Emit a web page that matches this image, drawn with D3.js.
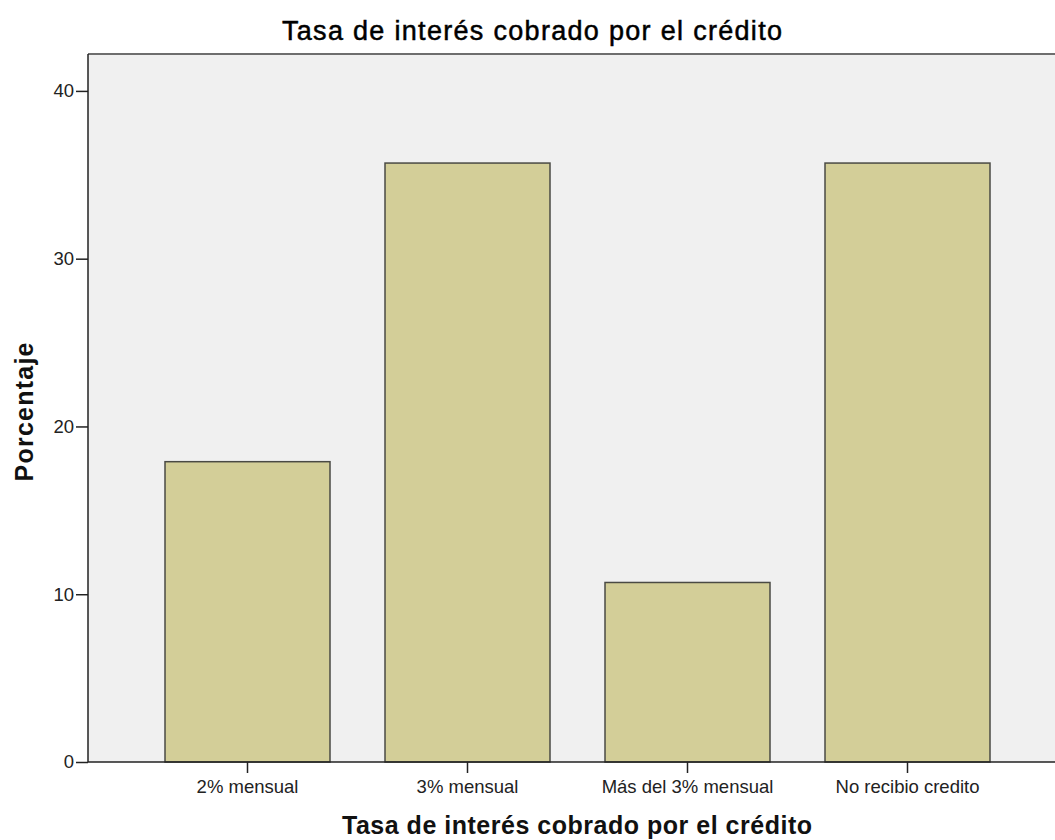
<!DOCTYPE html>
<html>
<head>
<meta charset="utf-8">
<title>Tasa de interés cobrado por el crédito</title>
<script src="https://d3js.org/d3.v7.min.js"></script>
<style>
  body { margin: 0; background: #fff; }
  text { font-family: "Liberation Sans", Arial, sans-serif; }
</style>
</head>
<body>
<script>
// data
var categories = ["2% mensual", "3% mensual", "Más del 3% mensual", "No recibio credito"];
var percentages = [17.9, 35.7, 10.7, 35.7];
var yTicks = [0, 10, 20, 30, 40];

var w = 1055, h = 840;
var plotLeft = 88, plotTop = 54, plotBottom = 762, plotRight = 1067;

var svg = d3.select("body").append("svg")
    .attr("width", w)
    .attr("height", h);

var x = d3.scaleBand()
    .domain(categories)
    .range([plotLeft, plotRight])
    .paddingInner(0.25)
    .paddingOuter(0.35);

var y = d3.scaleLinear()
    .domain([0, 42.2])
    .range([plotBottom, plotTop]);

// plot background
svg.append("rect")
    .attr("x", plotLeft).attr("y", plotTop)
    .attr("width", plotRight - plotLeft).attr("height", plotBottom - plotTop)
    .attr("fill", "#f0f0f0");

svg.append("line")
    .attr("x1", plotLeft).attr("x2", w)
    .attr("y1", plotTop).attr("y2", plotTop)
    .attr("stroke", "#6e6e6e").attr("stroke-width", 2);

// bars
svg.selectAll("rect.bar")
    .data(percentages)
    .enter().append("rect")
    .attr("class", "bar")
    .attr("x", (d, i) => x(categories[i]))
    .attr("y", d => y(d))
    .attr("width", x.bandwidth())
    .attr("height", d => plotBottom - y(d))
    .attr("fill", "#d3ce98")
    .attr("stroke", "#4a4a44")
    .attr("stroke-width", 1.5);

// axes
var yAxis = d3.axisLeft(y).tickValues(yTicks).tickSize(12).tickPadding(2);
var gy = svg.append("g").attr("transform", "translate(" + plotLeft + ",0)").call(yAxis);
gy.select(".domain").remove();
gy.selectAll("line").attr("stroke", "#222").attr("stroke-width", 1.5);
gy.selectAll("text").attr("font-size", "18.5px").attr("fill", "#222")
    .attr("font-family", "'Liberation Sans', Arial, sans-serif");

svg.append("line")
    .attr("x1", plotLeft).attr("x2", plotLeft)
    .attr("y1", plotTop).attr("y2", plotBottom)
    .attr("stroke", "#222").attr("stroke-width", 1.5);

var xAxis = d3.axisBottom(x).tickSize(11).tickPadding(7);
var gx = svg.append("g").attr("transform", "translate(0," + plotBottom + ")").call(xAxis);
gx.select(".domain").remove();
gx.selectAll("line").attr("stroke", "#222").attr("stroke-width", 1.5);
gx.selectAll("text").attr("font-size", "18.5px").attr("fill", "#222")
    .attr("font-family", "'Liberation Sans', Arial, sans-serif");

svg.append("line")
    .attr("x1", plotLeft).attr("x2", w)
    .attr("y1", plotBottom).attr("y2", plotBottom)
    .attr("stroke", "#222").attr("stroke-width", 1.5);

// titles
svg.append("text")
    .attr("x", 532).attr("y", 40)
    .attr("text-anchor", "middle")
    .attr("font-size", "27px")
    .attr("textLength", 500)
    .attr("lengthAdjust", "spacing")
    .attr("fill", "#000")
    .attr("stroke", "#000").attr("stroke-width", 0.5)
    .text("Tasa de interés cobrado por el crédito");

svg.append("text")
    .attr("x", 577).attr("y", 834)
    .attr("text-anchor", "middle")
    .attr("font-size", "25px")
    .attr("textLength", 470)
    .attr("lengthAdjust", "spacing")
    .style("font-weight", "bold")
    .attr("fill", "#111")
    .text("Tasa de interés cobrado por el crédito");

svg.append("text")
    .attr("transform", "translate(33,412) rotate(-90)")
    .attr("text-anchor", "middle")
    .attr("font-size", "25px")
    .attr("textLength", 139)
    .attr("lengthAdjust", "spacing")
    .style("font-weight", "bold")
    .attr("fill", "#111")
    .text("Porcentaje");
</script>
</body>
</html>
